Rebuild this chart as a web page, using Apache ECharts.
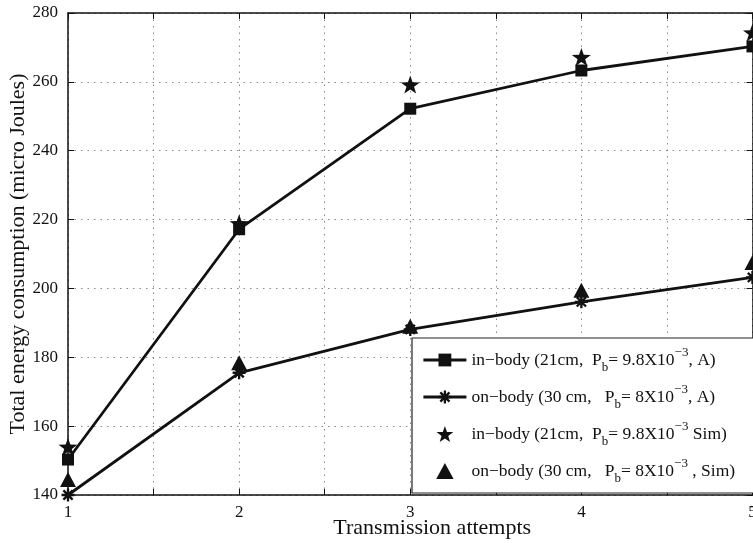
<!DOCTYPE html>
<html>
<head>
<meta charset="UTF-8">
<script src="https://cdn.jsdelivr.net/npm/echarts@6/dist/echarts.min.js"></script>
<style>
html, body { margin: 0; padding: 0; background: #fff; }
#main { width: 753px; height: 543px; }
</style>
</head>
<body>
<div id="main"></div>
<script type="text/javascript">
// attempts on the x axis
var attempts = [1, 2, 3, 4, 5];
// energy values (micro Joules)
var inBodyA = [150.3, 217.2, 252.2, 263.3, 270.3];
var onBodyA = [140, 175.5, 188.1, 196.1, 203.2];
var inBodySim = [154, 218.9, 259.2, 267.2, 274.3];
var onBodySim = [144.5, 178.4, 189, 199.5, 207.5];
var yTicks = [140, 160, 180, 200, 220, 240, 260, 280];

var names = ['inBodyA', 'onBodyA', 'inBodySim', 'onBodySim'];
// legend text with subscript / superscript pieces
var legendText = {
    inBodyA: '{n|in\u2212body (21cm,  P}{sub|b}{n|= 9.8X10}{sup|\u22123}{n|, A)}',
    onBodyA: '{n|on\u2212body (30 cm,   P}{sub|b}{n|= 8X10}{sup|\u22123}{n|, A)}',
    inBodySim: '{n|in\u2212body (21cm,  P}{sub|b}{n|= 9.8X10}{sup|\u22123}{n| Sim)}',
    onBodySim: '{n|on\u2212body (30 cm,   P}{sub|b}{n|= 8X10}{sup|\u22123}{n| , Sim)}'
};

var starPath = 'path://M50 0 L61.8 33.8 L97.6 34.5 L69 56.2 L79.4 90.5 L50 70 L20.6 90.5 L31 56.2 L2.4 34.5 L38.2 33.8 Z';
var trianglePath = 'path://M50 0 L100 92 L0 92 Z';
var asteriskPath = 'path://M8.2 0 L11.8 0 L11.8 20 L8.2 20 Z M0 8.2 L20 8.2 L20 11.8 L0 11.8 Z M1.6 4.2 L4.2 1.6 L18.4 15.8 L15.8 18.4 Z M15.8 1.6 L18.4 4.2 L4.2 18.4 L1.6 15.8 Z';

function pairs(vals) {
    return attempts.map(function (a, i) { return [a, vals[i]]; });
}

var font = 'Liberation Serif';
var ink = '#111';

var myChart = echarts.init(document.getElementById('main'));

var option = {
    backgroundColor: '#fff',
    animation: false,
    textStyle: { fontFamily: font },
    grid: {
        left: 68, right: 0.5, top: 13, bottom: 48,
        outerBoundsMode: 'none',
        containLabel: false,
        show: false
    },
    legend: {
        orient: 'vertical',
        left: 412, top: 338,
        padding: [8, 60, 8, 10],
        itemGap: 9,
        itemWidth: 43,
        itemHeight: 16,
        backgroundColor: '#fff',
        borderColor: '#222',
        borderWidth: 1.2,
        lineStyle: { width: 2.8, color: ink },
        data: [
            { name: names[0] },
            { name: names[1] },
            { name: names[2], icon: starPath },
            { name: names[3], icon: trianglePath }
        ],
        formatter: function (name) { return legendText[name]; },
        textStyle: {
            fontFamily: font,
            color: ink,
            rich: {
                n: { fontFamily: font, fontSize: 17.5, color: ink, lineHeight: 28 },
                sub: { fontFamily: font, fontSize: 13, color: ink, lineHeight: 13, verticalAlign: 'bottom' },
                sup: { fontFamily: font, fontSize: 13, color: ink, lineHeight: 13, verticalAlign: 'top' }
            }
        }
    },
    xAxis: [{
        type: 'value',
        min: 1, max: 5, interval: 0.5,
        name: 'Transmission attempts',
        nameLocation: 'middle',
        nameGap: 22,
        nameMoveOverlap: false,
        nameTextStyle: { fontFamily: font, fontSize: 22, color: ink, padding: [0, 0, 0, 44] },
        axisLine: { lineStyle: { color: ink, width: 1.5 } },
        axisTick: { inside: true, length: 6, lineStyle: { color: ink } },
        axisLabel: {
            fontFamily: font, fontSize: 17, color: ink, margin: 9,
            formatter: function (v) { return Number.isInteger(v) ? String(v) : ''; }
        },
        splitLine: { show: true, lineStyle: { color: '#888', width: 1, type: [1.5, 5] } }
    }, {
        type: 'value',
        position: 'top',
        min: 1, max: 5, interval: 0.5,
        axisLine: { lineStyle: { color: ink, width: 1.5 } },
        axisTick: { inside: true, length: 6, lineStyle: { color: ink } },
        axisLabel: { show: false },
        splitLine: { show: false }
    }],
    yAxis: [{
        type: 'value',
        min: yTicks[0], max: yTicks[yTicks.length - 1], interval: 20,
        name: 'Total energy consumption (micro Joules)',
        nameLocation: 'middle',
        nameGap: 39,
        nameMoveOverlap: false,
        nameTextStyle: { fontFamily: font, fontSize: 22, color: ink },
        axisLine: { show: true, lineStyle: { color: ink, width: 1.5 } },
        axisTick: { show: true, inside: true, length: 6, lineStyle: { color: ink } },
        axisLabel: { fontFamily: font, fontSize: 17, color: ink, margin: 10 },
        splitLine: { show: true, lineStyle: { color: '#888', width: 1, type: [1.5, 5] } }
    }, {
        type: 'value',
        position: 'right',
        min: yTicks[0], max: yTicks[yTicks.length - 1], interval: 20,
        axisLine: { show: true, lineStyle: { color: ink, width: 1.5 } },
        axisTick: { show: true, inside: true, length: 6, lineStyle: { color: ink } },
        axisLabel: { show: false },
        splitLine: { show: false }
    }],
    series: [{
        name: 'inBodyA',
        type: 'line',
        data: pairs(inBodyA),
        symbol: 'rect',
        symbolSize: 12,
        showAllSymbol: true,
        color: ink,
        lineStyle: { color: ink, width: 2.8 },
        itemStyle: { color: ink },
        z: 3
    }, {
        name: 'onBodyA',
        type: 'line',
        data: pairs(onBodyA),
        symbol: asteriskPath,
        symbolSize: 13,
        showAllSymbol: true,
        color: ink,
        lineStyle: { color: ink, width: 2.8 },
        itemStyle: { color: ink },
        z: 3
    }, {
        // markers only, the line is hidden
        name: 'inBodySim',
        type: 'line',
        data: pairs(inBodySim),
        symbol: starPath,
        symbolSize: [19, 18],
        showAllSymbol: true,
        color: ink,
        lineStyle: { color: ink, opacity: 0 },
        itemStyle: { color: ink, opacity: 1 },
        z: 4
    }, {
        name: 'onBodySim',
        type: 'line',
        data: pairs(onBodySim),
        symbol: trianglePath,
        symbolSize: [16, 15],
        showAllSymbol: true,
        color: ink,
        lineStyle: { color: ink, opacity: 0 },
        itemStyle: { color: ink, opacity: 1 },
        z: 4
    }]
};

myChart.setOption(option);
</script>
</body>
</html>
